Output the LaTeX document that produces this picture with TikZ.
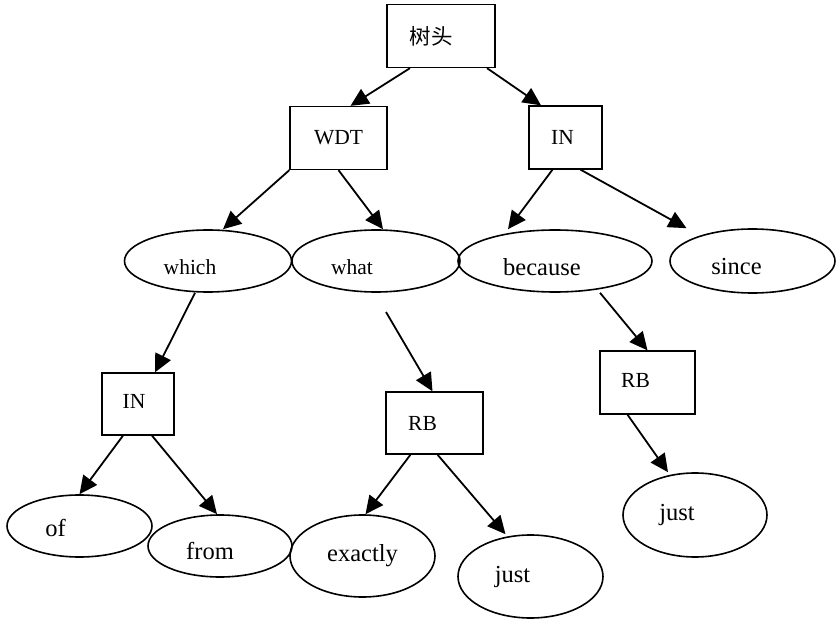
\documentclass[tikz,border=0pt]{standalone}
\usepackage{fontspec}
\setmainfont{Liberation Serif}
\newfontfamily\cjk{Noto Sans CJK SC}
\usepackage{tikz}
\usetikzlibrary{arrows.meta,positioning,shapes.geometric}

\begin{document}
\begin{tikzpicture}[x=1pt,y=-1pt,
  tag/.style={draw,line width=1.3pt,minimum height=63pt,inner sep=0pt},
  word/.style={draw,ellipse,line width=1.6pt,minimum width=145pt,
               minimum height=62pt,inner sep=0pt},
  small/.style={font=\fontsize{21.5}{25}\selectfont},
  big/.style={font=\fontsize{24.5}{28}\selectfont},
  arr/.style={line width=1.8pt,-{Triangle[length=18pt,width=17pt]}}]
\useasboundingbox (0,0) rectangle (836,620);
% tags
\node[tag,minimum width=108pt,label={[small,xshift=-10pt]center:\cjk 树头}] (root) at (441,36) {};
\node[tag,minimum width=97pt,label={[small]center:WDT}] (wdt) at (338.5,138) {};
\node[tag,minimum width=73pt,label={[small,xshift=-3pt]center:IN}] (in1) at (565.5,137.5) {};
% words
\node[word,minimum width=167pt,label={[small,xshift=-18pt,yshift=-6pt]center:which}] (which) at (208,261) {};
\node[word,minimum width=168pt,label={[small,xshift=-24pt,yshift=-6pt]center:what}] (what) at (376,261) {};
\node[word,minimum width=194pt,label={[big,xshift=-13pt,yshift=-6pt]center:because}] (because) at (555,261) {};
\node[word,minimum width=165pt,minimum height=64pt,label={[big,xshift=-16pt,yshift=-6pt]center:since}] (since) at (752.5,261) {};
% second level tags
\node[tag,minimum width=72pt,minimum height=62pt,label={[small,xshift=-4pt,yshift=3pt]center:IN}] (in2) at (138,404) {};
\node[tag,minimum width=97pt,minimum height=62pt,label={[small,xshift=-12pt]center:RB}] (rb1) at (434.5,423) {};
\node[tag,minimum width=95pt,label={[small,xshift=-12pt,yshift=2pt]center:RB}] (rb2) at (647.5,382.5) {};
% leaves
\node[word,label={[big,xshift=-24pt,yshift=-2pt]center:of}] (of) at (79.5,526) {};
\node[word,minimum width=144pt,label={[big,xshift=-10pt,yshift=-5pt]center:from}] (from) at (220,546) {};
\node[word,minimum height=82pt,label={[big]center:exactly}] (exactly) at (362.5,556) {};
\node[word,minimum height=83pt,label={[big,xshift=-18pt]center:just}] (just1) at (530.5,576.5) {};
\node[word,minimum width=144pt,minimum height=84pt,label={[big,xshift=-18pt]center:just}] (just2) at (695,515) {};
\coordinate (gap) at (386,312);
% edges
\draw[arr] ([xshift=-31pt]root.south) -- ([xshift=12pt]wdt.north);
\draw[arr] ([xshift=46pt]root.south) -- ([xshift=-24.5pt]in1.north);
\draw[arr] (wdt.south west) -- ([xshift=15pt]which.north);
\draw[arr] (wdt.south) -- ([xshift=7pt]what.north);
\draw[arr] ([xshift=-13pt]in1.south) -- ([xshift=-47pt]because.north);
\draw[arr] ([xshift=15pt]in1.south) -- ([xshift=-66pt]since.north);
\draw[arr] ([xshift=-13pt]which.south) -- ([xshift=17pt]in2.north);
\draw[arr] (gap) -- ([xshift=-2pt]rb1.north);
\draw[arr] ([xshift=45pt]because.south) -- (rb2.north);
\draw[arr] ([xshift=-15pt]in2.south) -- (of.north);
\draw[arr] ([xshift=14pt]in2.south) -- ([xshift=-3pt]from.north);
\draw[arr] ([xshift=-24pt]rb1.south) -- ([xshift=3pt]exactly.north);
\draw[arr] ([xshift=3pt]rb1.south) -- ([xshift=-25pt]just1.north);
\draw[arr] ([xshift=-20pt]rb2.south) -- ([xshift=-27pt]just2.north);
\end{tikzpicture}
\end{document}
